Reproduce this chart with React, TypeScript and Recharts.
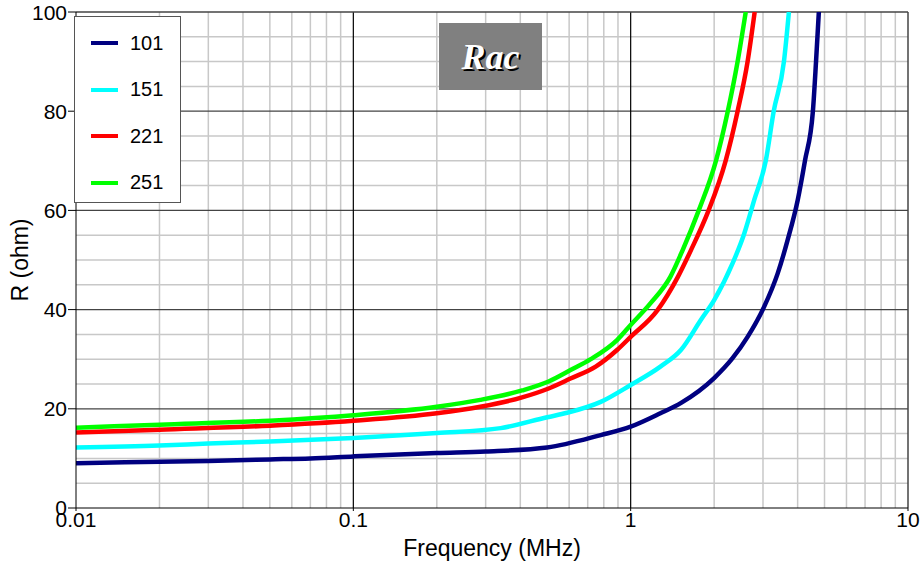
import React from "react";
import {
  LineChart,
  Line,
  XAxis,
  YAxis,
  ReferenceLine,
} from "recharts";

// readings (frequency in MHz, resistance in ohm)
const freq101 = [0.01, 0.015, 0.02, 0.03, 0.05, 0.07, 0.1, 0.2, 0.3, 0.5, 0.78, 1, 1.28, 1.52, 2, 2.33, 2.64, 3.03, 3.39, 3.68, 4.0, 4.25, 4.54, 4.66, 4.77];
const r101 = [9.0, 9.2, 9.3, 9.5, 9.8, 10.0, 10.4, 11.1, 11.4, 12.2, 14.7, 16.4, 19.1, 21.2, 26.2, 30.2, 34.5, 40.6, 47.3, 54, 62, 70, 80, 90, 100];

const freq151 = [0.01, 0.02, 0.03, 0.05, 0.1, 0.2, 0.34, 0.5, 0.59, 0.78, 1, 1.28, 1.52, 1.79, 2.0, 2.33, 2.57, 2.79, 3.07, 3.28, 3.57, 3.72];
const r151 = [12.2, 12.6, 13, 13.4, 14.1, 15.1, 16.1, 18.3, 19.2, 21.4, 24.8, 28.5, 31.9, 37.9, 41.9, 49.3, 55.4, 62.1, 70, 80, 90, 100];

const freq221 = [0.01, 0.02, 0.05, 0.1, 0.2, 0.287, 0.406, 0.506, 0.607, 0.748, 0.895, 1, 1.25, 1.48, 1.65, 1.91, 2.2, 2.43, 2.64, 2.8];
const r221 = [15.2, 15.8, 16.6, 17.6, 19.1, 20.4, 22.3, 24.1, 26.1, 28.5, 31.9, 34.5, 39.9, 46.6, 52, 60, 70, 80, 90, 100];

const freq251 = [0.01, 0.02, 0.05, 0.1, 0.2, 0.287, 0.406, 0.506, 0.607, 0.718, 0.895, 1, 1.18, 1.39, 1.54, 1.76, 2.03, 2.24, 2.43, 2.6];
const r251 = [16.2, 16.8, 17.6, 18.7, 20.4, 21.8, 23.7, 25.5, 27.8, 30.0, 33.9, 36.9, 41.3, 46.6, 52, 60, 70, 80, 90, 100];

const seriesNames = ["101", "151", "221", "251"];
const seriesColors = ["#000080", "#00ffff", "#ff0000", "#00ff00"];

const xTicks = [0.01, 0.1, 1, 10];
const yTicks = [0, 20, 40, 60, 80, 100];
const minorX = [0.02, 0.03, 0.04, 0.05, 0.06, 0.07, 0.08, 0.09, 0.2, 0.3, 0.4, 0.5, 0.6, 0.7, 0.8, 0.9, 2, 3, 4, 5, 6, 7, 8, 9];
const majorX = [0.1, 1];
const minorY = [5, 10, 15, 25, 30, 35, 45, 50, 55, 65, 70, 75, 85, 90, 95];
const majorY = [20, 40, 60, 80];

const toPoints = (fs: number[], rs: number[]) => fs.map((f, i) => ({ f, r: rs[i] }));
const seriesData = [
  toPoints(freq101, r101),
  toPoints(freq151, r151),
  toPoints(freq221, r221),
  toPoints(freq251, r251),
];

const font = "'Liberation Sans', Arial, sans-serif";

function LegendBox() {
  return (
    <div
      style={{
        position: "absolute",
        left: 74,
        top: 16,
        width: 107,
        height: 187,
        background: "#fff",
        border: "1px solid #555",
        boxSizing: "border-box",
        paddingTop: 3,
        fontFamily: font,
      }}
    >
      {seriesNames.map((n, i) => (
        <div key={n} style={{ display: "flex", alignItems: "center", height: 46.5 }}>
          <div style={{ width: 27, height: 4, background: seriesColors[i], marginLeft: 16, marginRight: 12 }} />
          <span style={{ fontSize: 20, color: "#000" }}>{n}</span>
        </div>
      ))}
    </div>
  );
}

export default function App() {
  return (
    <div style={{ position: "absolute", left: 0, top: 0, width: 922, height: 564, background: "#fff" }}>
      <LineChart width={922} height={564} margin={{ top: 12, right: 14, bottom: 26, left: 16 }}>
        <XAxis
          dataKey="f"
          type="number"
          scale="log"
          domain={[0.01, 10]}
          ticks={xTicks}
          allowDataOverflow
          tickFormatter={(v: number) => String(v)}
          tick={{ fill: "#000", fontSize: 21, fontFamily: font }}
          tickSize={3}
          tickMargin={1}
          stroke="#000"
          height={30}
          label={{ value: "Frequency (MHz)", position: "insideBottom", offset: -18, fill: "#000", fontSize: 23, fontFamily: font }}
        />
        <YAxis
          type="number"
          domain={[0, 100]}
          ticks={yTicks}
          allowDataOverflow
          tick={{ fill: "#000", fontSize: 21, fontFamily: font }}
          tickSize={8}
          tickMargin={1}
          stroke="#000"
          width={60}
          label={{ value: "R (ohm)", angle: -90, position: "insideLeft", offset: 4, fill: "#000", fontSize: 23, fontFamily: font, style: { textAnchor: "middle" } }}
        />
        {minorX.map((v) => (
          <ReferenceLine key={"mx" + v} x={v} stroke="#c8c8c8" strokeWidth={1.5} />
        ))}
        {minorY.map((v) => (
          <ReferenceLine key={"my" + v} y={v} stroke="#c8c8c8" strokeWidth={1.5} />
        ))}
        {majorY.map((v) => (
          <ReferenceLine key={"My" + v} y={v} stroke="#444" strokeWidth={1.2} />
        ))}
        {majorX.map((v) => (
          <ReferenceLine key={"Mx" + v} x={v} stroke="#000" strokeWidth={1.2} />
        ))}
        <ReferenceLine y={100} stroke="#444" strokeWidth={1.5} />
        <ReferenceLine x={10} stroke="#444" strokeWidth={1.5} />
        {seriesNames.map((n, i) => (
          <Line
            key={n}
            name={n}
            data={seriesData[i]}
            dataKey="r"
            type="monotone"
            stroke={seriesColors[i]}
            strokeWidth={4.5}
            dot={false}
            isAnimationActive={false}
          />
        ))}
      </LineChart>
      <LegendBox />
      <div
        style={{
          position: "absolute",
          left: 439,
          top: 23,
          width: 103,
          height: 67,
          background: "#808080",
          display: "flex",
          alignItems: "center",
          justifyContent: "center",
          color: "#fff",
          fontFamily: "'Liberation Serif', 'Times New Roman', serif",
          fontWeight: "bold",
          fontStyle: "italic",
          fontSize: 36,
          textShadow: "2px 2px 0 #000",
        }}
      >
        Rac
      </div>
    </div>
  );
}
